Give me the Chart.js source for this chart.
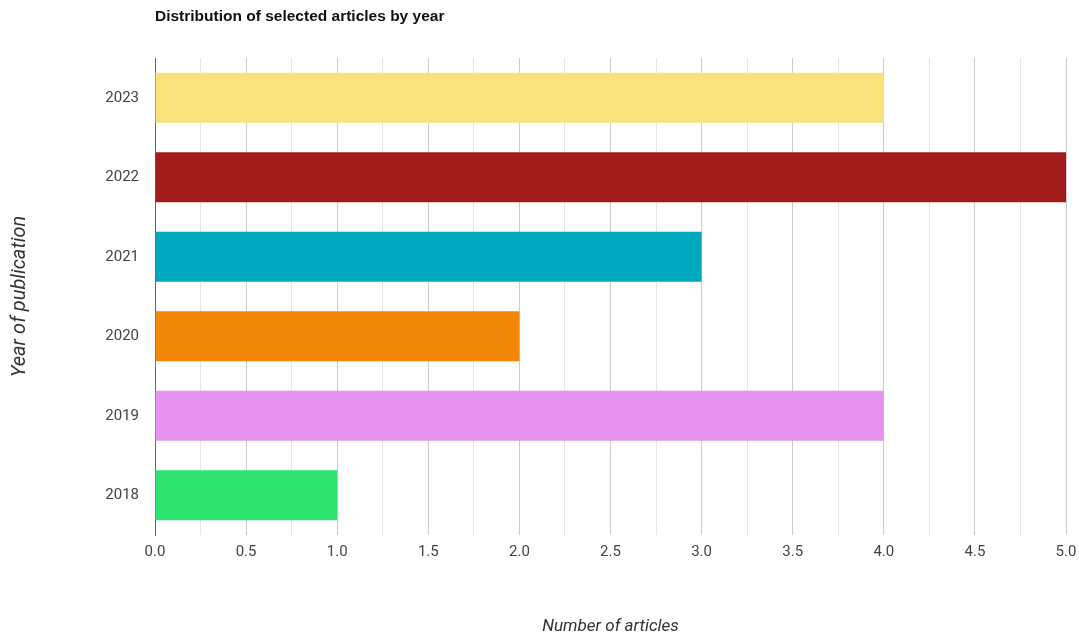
<!DOCTYPE html>
<html lang="en">
<head>
    <meta charset="UTF-8">
    <title>Distribution of selected articles by year</title>
    <script src="https://cdn.jsdelivr.net/npm/chart.js"></script>
    <style>
        body { margin: 0; background: #fff; }
        #box { width: 1079px; height: 635px; }
    </style>
</head>
<body>
    <div id="box">
        <canvas id="yearChart"></canvas>
    </div>

    <script>
        const years = ['2023', '2022', '2021', '2020', '2019', '2018'];
        const articles = [4, 5, 3, 2, 4, 1];
        const barColors = ['#f9e27a', '#a41b1b', '#00a9bd', '#f28708', '#e893ef', '#2de470'];

        // title drawn at the left edge of the plot, like the original
        const titleLeft = {
            id: 'titleLeft',
            afterDraw(chart) {
                const c = chart.ctx;
                c.save();
                c.font = 'bold 15.5px "Liberation Sans"';
                c.fillStyle = '#111';
                c.textBaseline = 'middle';
                c.fillText('Distribution of selected articles by year', chart.chartArea.left, 17);
                c.restore();
            }
        };

        const ctx = document.getElementById('yearChart').getContext('2d');
        const yearChart = new Chart(ctx, {
            type: 'bar',
            data: {
                labels: years,
                datasets: [{
                    data: articles,
                    backgroundColor: barColors,
                    barPercentage: 0.63,
                    categoryPercentage: 1
                }]
            },
            options: {
                indexAxis: 'y',
                responsive: true,
                maintainAspectRatio: false,
                animation: false,
                layout: {
                    padding: { top: 58, right: 3, left: 8, bottom: 0 }
                },
                plugins: {
                    legend: { display: false },
                    tooltip: { enabled: false }
                },
                scales: {
                    x: {
                        min: 0,
                        max: 5,
                        afterFit(scale) {
                            scale.height = 100;
                            scale.paddingRight = 13;
                        },
                        ticks: {
                            stepSize: 0.25,
                            padding: 8,
                            color: '#444',
                            font: { family: 'Roboto', size: 15 },
                            callback: function (v) {
                                return (Math.round(v * 100) % 50 === 0) ? v.toFixed(1) : '';
                            }
                        },
                        grid: {
                            drawTicks: false,
                            color: function (c) {
                                return (Math.round(c.tick.value * 100) % 50 === 0) ? '#cccccc' : '#e6e6e6';
                            }
                        },
                        border: { display: false },
                        title: {
                            display: true,
                            text: 'Number of articles',
                            color: '#333',
                            font: { family: 'Roboto', size: 17, style: 'italic' },
                            padding: { top: 0, bottom: -2 }
                        }
                    },
                    y: {
                        afterFit(scale) { scale.width = 147; },
                        ticks: {
                            padding: 16,
                            color: '#444',
                            font: { family: 'Roboto', size: 15 }
                        },
                        grid: { display: false, drawTicks: false },
                        border: { display: true, color: '#666', width: 1 },
                        title: {
                            display: true,
                            text: 'Year of publication',
                            color: '#333',
                            font: { family: 'Roboto', size: 20, style: 'italic' },
                            padding: { top: 0, bottom: 0 }
                        }
                    }
                }
            },
            plugins: [titleLeft]
        });
    </script>
</body>
</html>
